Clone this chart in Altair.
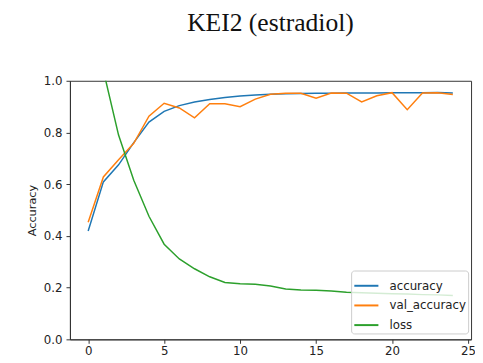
import altair as alt
import pandas as pd

epochs = list(range(25))
accuracy = [0.419, 0.609, 0.675, 0.761, 0.840, 0.882, 0.904, 0.918, 0.928, 0.935,
            0.941, 0.945, 0.948, 0.950, 0.951, 0.952, 0.952, 0.953, 0.953, 0.953,
            0.954, 0.954, 0.954, 0.955, 0.953]
val_accuracy = [0.453, 0.628, 0.695, 0.758, 0.863, 0.913, 0.895, 0.857, 0.911, 0.911,
                0.900, 0.929, 0.948, 0.952, 0.952, 0.933, 0.953, 0.952, 0.918, 0.942,
                0.954, 0.888, 0.953, 0.954, 0.947]
loss = [1.35, 1.04, 0.79, 0.615, 0.476, 0.368, 0.311, 0.273, 0.242, 0.220,
        0.215, 0.213, 0.206, 0.195, 0.191, 0.190, 0.187, 0.182, 0.180, 0.178,
        0.176, 0.175, 0.173, 0.172, 0.170]

series_names = ["accuracy", "val_accuracy", "loss"]
series_colors = ["#1f77b4", "#ff7f0e", "#2ca02c"]
x_ticks = [0, 5, 10, 15, 20, 25]
y_ticks = [0.0, 0.2, 0.4, 0.6, 0.8, 1.0]

rows = []
for name, vals in zip(series_names, [accuracy, val_accuracy, loss]):
    for e, v in zip(epochs, vals):
        rows.append({"epoch": e, "value": v, "series": name})
df = pd.DataFrame(rows)

chart = alt.Chart(df).mark_line(strokeWidth=1.5, clip=True).encode(
    x=alt.X("epoch:Q",
            scale=alt.Scale(domain=[-1.2, 25.2], nice=False, zero=False),
            axis=alt.Axis(values=x_ticks, format="d", title=None, grid=False,
                          tickSize=4, labelPadding=2, labelFontSize=12,
                          labelColor="#222", tickColor="#333", domainColor="#333")),
    y=alt.Y("value:Q",
            scale=alt.Scale(domain=[0, 1], nice=False),
            axis=alt.Axis(values=y_ticks, format=".1f", title="Accuracy", grid=False,
                          tickSize=4, labelPadding=4, labelFontSize=12,
                          labelColor="#222", tickColor="#333", domainColor="#333",
                          titleFontSize=11.5, titleFontWeight="normal",
                          titleColor="#222", titlePadding=6)),
    color=alt.Color("series:N",
                    scale=alt.Scale(domain=series_names, range=series_colors),
                    sort=series_names,
                    legend=alt.Legend(title=None, orient="none", legendX=286, legendY=193,
                                      symbolType="stroke", symbolSize=600,
                                      symbolStrokeWidth=2, labelFontSize=12,
                                      labelColor="#222", labelOffset=10,
                                      fillColor="rgba(255,255,255,0.8)",
                                      strokeColor="#cccccc", cornerRadius=3,
                                      padding=2, rowPadding=0)),
).properties(
    width=408,
    height=263,
    title=alt.Title("KEI2 (estradiol)", font="Liberation Serif", fontSize=26,
                    fontWeight="normal", color="#111", anchor="middle",
                    offset=40),
    padding={"left": 63, "top": 71, "right": 4, "bottom": 20},
    autosize=alt.AutoSizeParams(type="none"),
).configure_view(
    stroke="#333", strokeWidth=1
).configure_axis(
    labelFont="DejaVu Sans", titleFont="DejaVu Sans", domainWidth=1
).configure_legend(
    labelFont="DejaVu Sans"
)

chart.save("out.html", embed_options={"renderer": "svg", "actions": False})
